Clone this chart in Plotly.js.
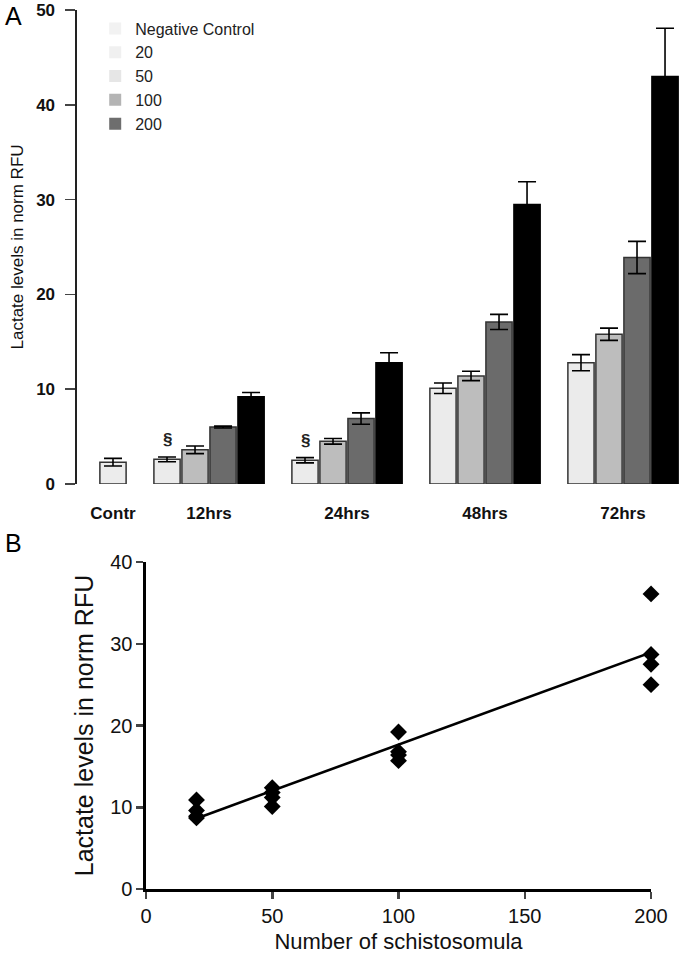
<!DOCTYPE html>
<html>
<head>
<meta charset="utf-8">
<script src="https://cdn.plot.ly/plotly-3.0.1.min.js"></script>
<style>
  html, body { margin: 0; padding: 0; background: #fff; }
  #myDiv { width: 680px; height: 961px; }
</style>
</head>
<body>
<div id="myDiv"></div>
<script>
// panel A: lactate over time per number of schistosomula
var categories = ["Contr", "12hrs", "24hrs", "48hrs", "72hrs"];
var catPos = [0.304, 1, 2, 3, 4];
var timeCats = ["12hrs", "24hrs", "48hrs", "72hrs"];

var legendNames = ["Negative Control", "20", "50", "100", "200"];

var negCtrl = [2.3];
var negCtrlErr = [0.4];

var s20 = [2.6, 2.5, 10.1, 12.8];
var s20Err = [0.25, 0.28, 0.55, 0.85];
var s50 = [3.6, 4.5, 11.4, 15.8];
var s50Err = [0.4, 0.3, 0.5, 0.65];
var s100 = [6.0, 6.9, 17.1, 23.9];
var s100Err = [0.1, 0.6, 0.8, 1.7];
var s200 = [9.2, 12.8, 29.5, 43.0];
var s200Err = [0.45, 1.05, 2.4, 5.1];

var sigMarks = ["§", "§", "", ""];

// panel B: lactate vs number of schistosomula
var nSchisto = [20, 20, 20, 20, 50, 50, 50, 50, 100, 100, 100, 100, 200, 200, 200, 200];
var lactate = [10.9, 9.6, 8.9, 8.7, 12.4, 11.8, 11.2, 10.1, 19.2, 16.8, 16.4, 15.7, 36.1, 28.7, 27.5, 25.0];

var font = "Liberation Sans, Arial, sans-serif";
var slot = 0.203;
var barW = 0.19;

var posOf = function (cat) {
  return catPos[categories.indexOf(cat)];
};

var seriesA = [
  { name: "20", y: s20, err: s20Err, color: "#ebebeb", line: "#333" },
  { name: "50", y: s50, err: s50Err, color: "#bdbdbd", line: "#333" },
  { name: "100", y: s100, err: s100Err, color: "#6b6b6b", line: "#333" },
  { name: "200", y: s200, err: s200Err, color: "#000000", line: "#000" },
];

var errStyle = function (arr) {
  return { type: "data", array: arr, visible: true, color: "#000", thickness: 1.6, width: 9 };
};

var data = [];

data.push({
  type: "bar",
  name: "Negative Control",
  x: ["Contr"].map(posOf),
  y: negCtrl,
  width: barW,
  offset: -barW / 2,
  marker: { color: "#ececec", line: { color: "#333", width: 1.5 } },
  error_y: errStyle(negCtrlErr),
  showlegend: false,
  xaxis: "x",
  yaxis: "y",
});

seriesA.forEach(function (s, i) {
  data.push({
    type: "bar",
    name: s.name,
    x: timeCats.map(posOf),
    y: s.y,
    width: barW,
    offset: (i - 2) * slot + (slot - barW) / 2,
    marker: { color: s.color, line: { color: s.line, width: 1.5 } },
    error_y: errStyle(s.err),
    showlegend: false,
    xaxis: "x",
    yaxis: "y",
  });
});

// legend swatches as in the original figure (lighter, no border)
var legendColors = ["#f2f2f2", "#f0f0f0", "#e6e6e6", "#b4b4b4", "#6e6e6e"];
legendNames.forEach(function (n, i) {
  data.push({
    type: "bar",
    name: n,
    x: [null],
    y: [null],
    marker: { color: legendColors[i], line: { width: 0 } },
    xaxis: "x",
    yaxis: "y",
  });
});

// linear fit for panel B
var mx = nSchisto.reduce((a, b) => a + b, 0) / nSchisto.length;
var my = lactate.reduce((a, b) => a + b, 0) / lactate.length;
var sxy = 0, sxx = 0;
for (var i = 0; i < nSchisto.length; i++) {
  sxy += (nSchisto[i] - mx) * (lactate[i] - my);
  sxx += (nSchisto[i] - mx) * (nSchisto[i] - mx);
}
var slope = sxy / sxx;
var icpt = my - slope * mx;
var fitX = [Math.min.apply(null, nSchisto), Math.max.apply(null, nSchisto)];
var fitY = fitX.map((v) => icpt + slope * v);

data.push({
  type: "scatter",
  mode: "lines",
  x: fitX,
  y: fitY,
  line: { color: "#000", width: 2.6 },
  showlegend: false,
  xaxis: "x2",
  yaxis: "y2",
});

data.push({
  type: "scatter",
  mode: "markers",
  x: nSchisto,
  y: lactate,
  marker: { symbol: "diamond", size: 13, color: "#000" },
  cliponaxis: false,
  showlegend: false,
  xaxis: "x2",
  yaxis: "y2",
});

var annotations = [
  { text: "A", xref: "paper", yref: "paper", x: 0.004, y: 1.0, xanchor: "left", yanchor: "top", showarrow: false, font: { family: font, size: 25, color: "#000" } },
  { text: "B", xref: "paper", yref: "paper", x: 0.004, y: 0.452, xanchor: "left", yanchor: "top", showarrow: false, font: { family: font, size: 25, color: "#000" } },
];

sigMarks.forEach(function (m, i) {
  if (!m) return;
  annotations.push({
    text: "<b>" + m + "</b>",
    xref: "x",
    yref: "y",
    x: posOf(timeCats[i]) - 1.5 * slot,
    y: s20[i] + s20Err[i],
    yanchor: "bottom",
    yshift: 6,
    showarrow: false,
    font: { family: font, size: 17, color: "#222" },
  });
});

var layout = {
  width: 680,
  height: 961,
  margin: { l: 0, r: 0, t: 0, b: 0 },
  paper_bgcolor: "#fff",
  plot_bgcolor: "#fff",
  font: { family: font, color: "#000" },
  barmode: "overlay",
  showlegend: true,
  legend: {
    x: 0.14,
    y: 0.988,
    xanchor: "left",
    yanchor: "top",
    bgcolor: "rgba(0,0,0,0)",
    font: { family: font, size: 16, color: "#222" },
  },
  xaxis: {
    domain: [0.1132, 1],
    range: [0.043, 4.413],
    tickvals: catPos,
    ticktext: categories.map((c) => "<b>" + c + "</b>"),
    tickfont: { family: font, size: 17, color: "#111" },
    ticks: "",
    ticklabelstandoff: 17,
    showline: false,
    showgrid: false,
    zeroline: false,
    anchor: "y",
  },
  yaxis: {
    domain: [0.4964, 0.9896],
    range: [0, 50.02],
    dtick: 10,
    tickprefix: "<b>",
    ticksuffix: "</b>",
    tickfont: { family: font, size: 17, color: "#111" },
    ticks: "outside",
    ticklen: 10,
    tickwidth: 1.5,
    ticklabelstandoff: 7,
    ticklabeloverflow: "allow",
    showline: true,
    linewidth: 1.5,
    linecolor: "#222",
    showgrid: false,
    zeroline: false,
    title: { text: "Lactate levels in norm RFU", font: { family: font, size: 17, color: "#111" }, standoff: 8 },
    anchor: "x",
  },
  xaxis2: {
    domain: [0.2147, 0.9574],
    range: [0, 200],
    dtick: 50,
    tickfont: { family: font, size: 20, color: "#111" },
    ticks: "outside",
    ticklen: 7,
    tickwidth: 2.5,
    showline: true,
    linewidth: 2.5,
    linecolor: "#000",
    showgrid: false,
    zeroline: false,
    title: { text: "Number of schistosomula", font: { family: font, size: 22, color: "#111" }, standoff: 8 },
    anchor: "y2",
  },
  yaxis2: {
    domain: [0.0749, 0.4152],
    range: [0, 40],
    dtick: 10,
    tickfont: { family: font, size: 20, color: "#111" },
    ticks: "outside",
    ticklen: 7,
    tickwidth: 2.5,
    ticklabeloverflow: "allow",
    showline: true,
    linewidth: 2.5,
    linecolor: "#000",
    showgrid: false,
    zeroline: false,
    title: { text: "Lactate levels in norm RFU", font: { family: font, size: 25, color: "#111" }, standoff: 10 },
    anchor: "x2",
  },
  annotations: annotations,
};

document.addEventListener("DOMContentLoaded", () => {
  Plotly.newPlot("myDiv", data, layout, { displayModeBar: false, staticPlot: true });
});
</script>
</body>
</html>
